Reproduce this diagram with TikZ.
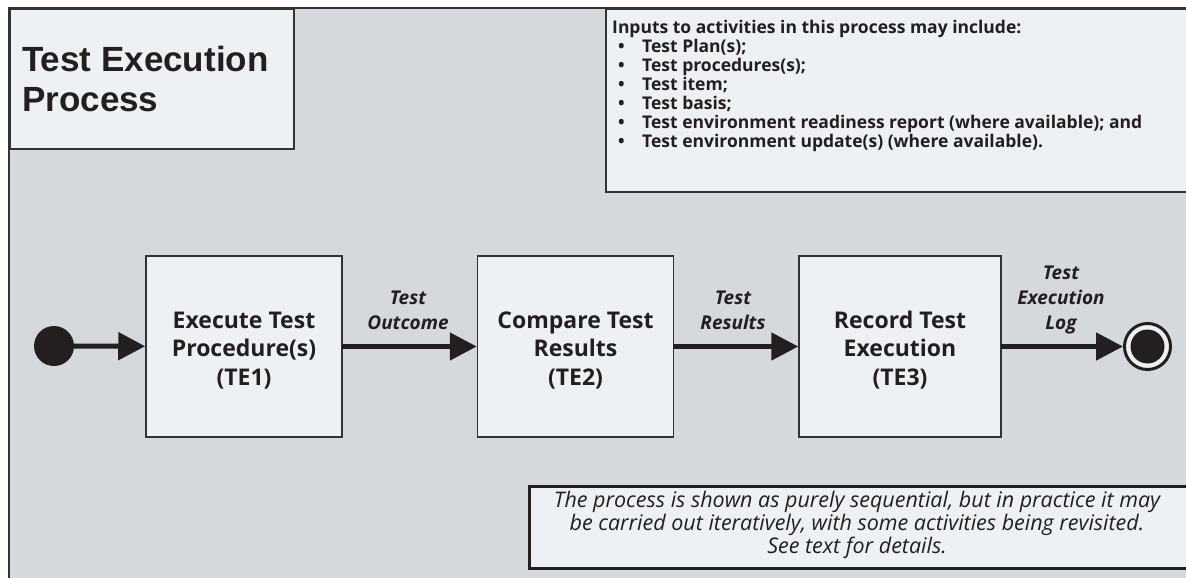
\documentclass[tikz,border=0pt]{standalone}
\usepackage{fontspec}
\setmainfont{Open Sans}
\newfontfamily\titlefont{Liberation Sans}
\usetikzlibrary{arrows.meta}
\definecolor{bggray}{HTML}{D5D8DD}
\definecolor{boxfill}{HTML}{EEF1F3}
\definecolor{ink}{HTML}{231F20}
\definecolor{edge}{HTML}{333333}
\newcommand{\bul}{\makebox[30pt][l]{\hspace{6pt}\textbullet}}
\newcommand{\lowerstrut}{\rule{0pt}{24pt}}
\tikzset{
  activity/.style={draw=edge, line width=1.5pt, fill=boxfill, minimum width=196pt, minimum height=181pt, align=center, text=ink, font=\fontsize{23}{28.5}\selectfont\bfseries, inner sep=0pt},
  flow/.style={draw=ink, line width=5pt, -{Triangle[length=27pt,width=27pt]}, shorten <=-1pt},
  flowlabel/.style={align=center, text=ink, font=\fontsize{19}{25}\selectfont\bfseries\itshape, inner sep=0pt},
}
\begin{document}
\begin{tikzpicture}[x=1pt,y=-1pt]
\clip (0,0) rectangle (1186,578);
\useasboundingbox (0,0) rectangle (1186,578);
\fill[white] (0,0) rectangle (1186,578);
% outer frame
\draw[draw=edge, line width=1.5pt, fill=bggray] (9,8) rectangle (1200,600);
% title box
\node[draw=edge, line width=1.5pt, fill=boxfill, minimum width=284pt, minimum height=140pt, inner sep=0pt] (titlebox) at (152,79) {};
\node[anchor=north west, align=left, text=ink, font=\titlefont\fontsize{35}{40}\selectfont\bfseries, inner sep=0pt] (title) at (22,46) {Test Execution\\Process};
% inputs box
\node[draw=edge, line width=1.5pt, fill=boxfill, minimum width=600pt, minimum height=182pt, inner sep=0pt, anchor=north west] (inputs) at (605,9) {};
\node[anchor=north west, align=left, text=ink, font=\fontsize{17.5}{19}\selectfont\bfseries, inner sep=0pt] (inputstext) at (612,20) {Inputs to activities in this process may include:\\
\bul Test Plan(s);\\
\bul Test procedures(s);\\
\bul Test item;\\
\bul Test basis;\\
\bul Test environment readiness report (where available); and\\
\bul Test environment update(s) (where available).};
% activities
\node[activity] (te1) at (244,346.5) {\lowerstrut Execute Test\\Procedure(s)\\(TE1)};
\node[activity] (te2) at (575.5,346.5) {\lowerstrut Compare Test\\Results\\(TE2)};
\node[activity, minimum width=202pt] (te3) at (900,346.5) {\lowerstrut Record Test\\Execution\\(TE3)};
% start and end
\node[circle, fill=ink, minimum size=40pt, inner sep=0pt] (start) at (54,346) {};
\node[circle, draw=ink, line width=3pt, fill=boxfill, minimum size=46pt, inner sep=0pt] (finish) at (1147.5,346.5) {};
\node[circle, fill=ink, minimum size=34pt, inner sep=0pt] (finishdot) at (finish.center) {};
% flows
\draw[flow] (start) -- (te1);
\draw[flow] (te1) -- (te2);
\draw[flow] (te2) -- (te3);
\draw[flow] (te3) -- (finish);
% flow labels
\node[flowlabel] (l1) at (408,310) {Test\\Outcome};
\node[flowlabel] (l2) at (733,310) {Test\\Results};
\node[flowlabel] (l3) at (1061,300) {Test\\Execution\\Log};
% note
\node[draw=ink, line width=2.5pt, fill=boxfill, minimum width=680pt, minimum height=82pt, inner sep=0pt, anchor=north west] (notebox) at (528,485) {};
\node[align=center, text=ink, font=\fontsize{21.5}{23}\selectfont\itshape, inner sep=0pt] (note) at (857,525) {The process is shown as purely sequential, but in practice it may\\be carried out iteratively, with some activities being revisited.\\See text for details.};
\end{tikzpicture}
\end{document}
